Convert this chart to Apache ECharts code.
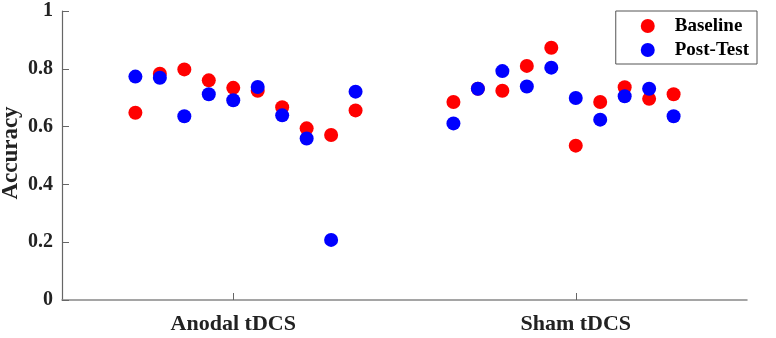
<!DOCTYPE html>
<html>
<head>
<meta charset="utf-8">
<script src="https://cdn.jsdelivr.net/npm/echarts@6/dist/echarts.min.js"></script>
<style>
  html, body { margin: 0; padding: 0; background: #fff; }
  #main { width: 776px; height: 338px; }
</style>
</head>
<body>
<div id="main"></div>
<script>
// groups and where they sit on the x scale (MATLAB style 0..28)
var groups = ['Anodal tDCS', 'Sham tDCS'];
var groupTicks = [7, 21];
var groupStart = [3, 16]; // x of first subject in each group

// accuracy per subject
var anodalBaseline = [0.648, 0.783, 0.798, 0.760, 0.734, 0.724, 0.667, 0.594, 0.571, 0.656];
var anodalPost     = [0.773, 0.769, 0.636, 0.712, 0.691, 0.737, 0.639, 0.559, 0.208, 0.721];
var shamBaseline   = [0.685, 0.731, 0.724, 0.810, 0.873, 0.534, 0.685, 0.736, 0.696, 0.712];
var shamPost       = [0.611, 0.731, 0.792, 0.739, 0.804, 0.699, 0.624, 0.705, 0.731, 0.636];

function pts(g, vals) {
  return vals.map(function (v, i) { return [groupStart[g] + i, v]; });
}

var font = '"Liberation Serif", "Times New Roman", serif';
var chart = echarts.init(document.getElementById('main'), null, { renderer: 'canvas' });

var option = {
  animation: false,
  backgroundColor: '#fff',
  grid: { left: 62, right: 29, top: 11, bottom: 38, containLabel: false, outerBoundsMode: 'none' },
  // y axis title, placed by hand (axis name kept getting clipped)
  graphic: [{
    type: 'text',
    x: 11, y: 153,
    rotation: Math.PI / 2,
    style: {
      text: 'Accuracy',
      fill: '#222',
      font: 'bold 23px ' + font,
      align: 'center',
      verticalAlign: 'middle'
    }
  }],
  legend: {
    right: 19, top: 11,
    orient: 'vertical',
    itemWidth: 14, itemHeight: 14,
    itemGap: 4,
    padding: [5, 8, 4, 25],
    borderColor: '#555', borderWidth: 1,
    backgroundColor: '#fff',
    textStyle: { fontFamily: font, fontWeight: 'bold', fontSize: 19, lineHeight: 20, color: '#000', padding: [0, 0, 0, 15] },
    data: [
      { name: 'Baseline', icon: 'circle' },
      { name: 'Post-Test', icon: 'circle' }
    ]
  },
  xAxis: {
    type: 'value',
    min: 0, max: 28,
    splitLine: { show: false },
    axisLine: { lineStyle: { color: '#888', width: 1.5 } },
    axisTick: { inside: true, length: 7, lineStyle: { color: '#666' }, customValues: groupTicks },
    axisLabel: {
      customValues: groupTicks,
      formatter: function (v) { return groups[groupTicks.indexOf(v)] || ''; },
      fontFamily: font, fontWeight: 'bold', fontSize: 22, color: '#222', margin: 13
    }
  },
  yAxis: {
    type: 'value',
    min: 0, max: 1, interval: 0.2,
    splitLine: { show: false },
    axisLine: { show: true, lineStyle: { color: '#666', width: 1.2 } },
    axisTick: { show: true, inside: true, length: 7, lineStyle: { color: '#666' } },
    axisLabel: {
      formatter: function (v) { return String(+v.toFixed(1)); },
      fontFamily: font, fontWeight: 'bold', fontSize: 20, color: '#222', margin: 9
    }
  },
  series: [
    {
      name: 'Baseline', type: 'scatter', symbolSize: 14,
      itemStyle: { color: '#ff0000', opacity: 1 },
      data: pts(0, anodalBaseline).concat(pts(1, shamBaseline))
    },
    {
      name: 'Post-Test', type: 'scatter', symbolSize: 14,
      itemStyle: { color: '#0000ff', opacity: 1 },
      data: pts(0, anodalPost).concat(pts(1, shamPost))
    }
  ]
};

chart.setOption(option);
</script>
</body>
</html>
